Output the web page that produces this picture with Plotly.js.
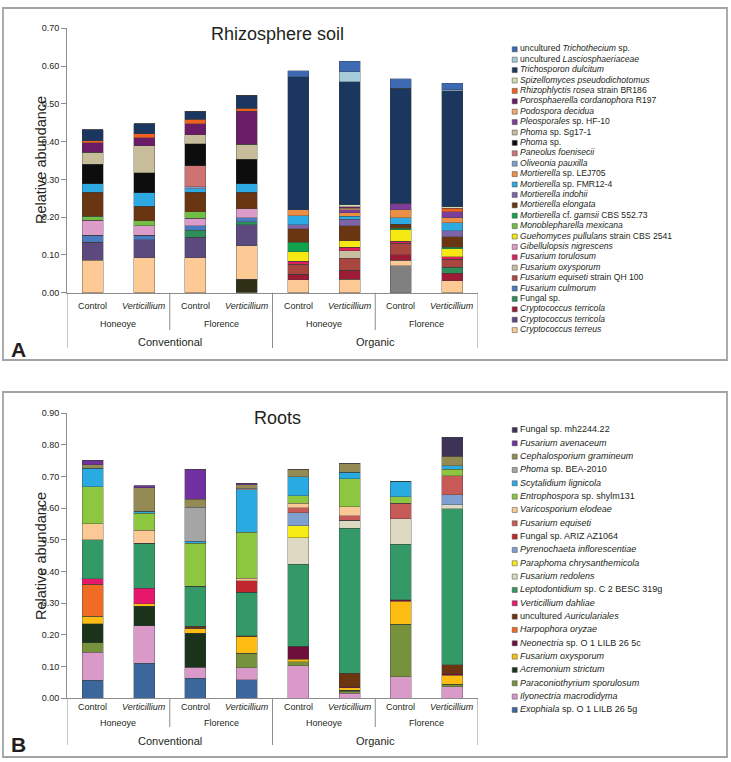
<!DOCTYPE html>
<html><head><meta charset="utf-8">
<script src="https://cdn.plot.ly/plotly-3.0.1.min.js"></script>
<style>html,body{margin:0;padding:0;background:#fff;}#chart{width:731px;height:762px;}</style>
</head><body><div id="chart"></div>
<script>
// ---------- categories ----------
const treatments = ['Control','<i>Verticillium</i>','Control','<i>Verticillium</i>','Control','<i>Verticillium</i>','Control','<i>Verticillium</i>'];
const sites = ['Honeoye','Florence','Honeoye','Florence'];
const systems = ['Conventional','Organic'];

// ---------- Panel A: rhizosphere soil (legend order, top -> bottom) ----------
const rhizoNames = [
 'uncultured <i>Trichothecium</i> sp.','uncultured <i>Lasciosphaeriaceae</i>','<i>Trichosporon dulcitum</i>',
 '<i>Spizellomyces pseudodichotomus</i>','<i>Rhizophlyctis rosea</i> strain BR186','<i>Porosphaerella cordanophora</i> R197',
 '<i>Podospora decidua</i>','<i>Pleosporales</i> sp. HF-10','<i>Phoma</i> sp. Sg17-1','<i>Phoma</i> sp.',
 '<i>Paneolus foenisecii</i>','<i>Oliveonia pauxilla</i>','<i>Mortierella</i> sp. LEJ705','<i>Mortierella</i> sp. FMR12-4',
 '<i>Mortierella indohii</i>','<i>Mortierella elongata</i>','<i>Mortierella</i> cf. <i>gamsii</i> CBS 552.73',
 '<i>Monoblepharella mexicana</i>','<i>Guehomyces pullulans</i> strain CBS 2541','<i>Gibellulopsis nigrescens</i>',
 '<i>Fusarium torulosum</i>','<i>Fusarium oxysporum</i>','<i>Fusarium equiseti</i> strain QH 100','<i>Fusarium culmorum</i>',
 'Fungal sp.','<i>Cryptococcus terricola</i>','<i>Cryptococcus terricola</i>','<i>Cryptococcus terreus</i>'];
const rhizoColors = ['#3e6ab4','#a6cbdb','#1b365f','#d0deb0','#f0601f','#6a1c67','#f3a76a','#7c3d9b','#c7bd9a','#0d0d0d',
 '#cd7472','#7c9dd0','#eb8f45','#2daae1','#7d64a8','#6a3511','#10a34d','#70bf44','#f6e812','#dc9cc9',
 '#de2060','#c9bfa0','#a9463f','#4a7bc1','#2f8f5b','#9d1b35','#5c4a7e','#fdc995'];
const rhizoValues = [
 [0,0,0,0,0.016,0.028,0.024,0.016],
 [0,0,0,0,0,0.027,0,0.003],
 [0.030,0.027,0.022,0.035,0.353,0.325,0.305,0.307],
 [0,0,0,0,0,0.006,0,0.005],
 [0.005,0.011,0.012,0.008,0,0,0,0.009],
 [0.025,0.021,0.029,0.087,0,0.004,0,0],
 [0,0,0,0,0,0.004,0,0],
 [0,0,0,0,0,0.007,0.017,0.015],
 [0.032,0.071,0.024,0.040,0,0,0,0],
 [0.052,0.053,0.058,0.065,0,0,0,0],
 [0,0,0.056,0,0,0,0,0],
 [0,0,0.005,0,0,0,0,0],
 [0,0,0,0,0.015,0.009,0.021,0.014],
 [0.022,0.036,0.009,0.022,0.024,0.008,0.018,0.021],
 [0,0,0,0,0.010,0.018,0,0.016],
 [0.063,0.038,0.052,0.044,0.036,0.039,0.010,0.027],
 [0,0,0,0,0.025,0,0.004,0.004],
 [0.011,0.014,0.017,0,0,0,0,0],
 [0,0,0,0,0.026,0.018,0.031,0.022],
 [0.040,0.025,0.020,0.024,0,0,0,0],
 [0,0,0,0,0.007,0.009,0.005,0.006],
 [0,0,0,0,0,0.020,0,0],
 [0,0,0,0,0.027,0.031,0.030,0.022],
 [0.019,0.012,0.012,0.010,0,0,0,0],
 [0,0,0.018,0.008,0,0,0,0.015],
 [0,0,0,0,0.015,0.025,0.015,0.021],
 [0.047,0.048,0.054,0.056,0,0,0,0],
 [0.086,0.092,0.093,0.088,0.034,0.035,0.015,0.031]];
// segments at the very bottom of two bars that have no legend entry
const rhizoOtherNames = ['unlabelled (grey)','unlabelled (dark)'];
const rhizoOtherColors = ['#808080','#2f2f16'];
const rhizoOtherValues = [
 [0,0,0,0,0,0,0.071,0],
 [0,0,0,0.036,0,0,0,0]];

// ---------- Panel B: roots (legend order, top -> bottom) ----------
const rootNames = [
 'Fungal sp. mh2244.22','<i>Fusarium avenaceum</i>','<i>Cephalosporium gramineum</i>','<i>Phoma</i> sp. BEA-2010',
 '<i>Scytalidium lignicola</i>','<i>Entrophospora</i> sp. shylm131','<i>Varicosporium elodeae</i>','<i>Fusarium equiseti</i>',
 'Fungal sp. ARIZ AZ1064','<i>Pyrenochaeta inflorescentiae</i>','<i>Paraphoma chrysanthemicola</i>','<i>Fusarium redolens</i>',
 '<i>Leptodontidium</i> sp. C 2 BESC 319g','<i>Verticillium dahliae</i>','uncultured <i>Auriculariales</i>','<i>Harpophora oryzae</i>',
 '<i>Neonectria</i> sp. O 1 LILB 26 5c','<i>Fusarium oxysporum</i>','<i>Acremonium strictum</i>','<i>Paraconiothyrium sporulosum</i>',
 '<i>Ilyonectria macrodidyma</i>','<i>Exophiala</i> sp. O 1 LILB 26 5g'];
const rootColors = ['#3d3358','#7030a0','#948a54','#a5a5a5','#29abe2','#8dc63f','#fbc996','#c75a57',
 '#c1272d','#7f9fd0','#f7ec13','#ddd9c3','#339966','#e6186c','#6b3510','#f26b22',
 '#6d0e3b','#fdbc12','#1a331a','#77923c','#d99ac9','#3b679c'];
const rootValues = [
 [0,0,0,0,0,0,0,0.060],
 [0.014,0.007,0.095,0.005,0,0,0,0],
 [0.011,0.075,0.025,0.011,0.024,0.028,0,0.029],
 [0,0,0.108,0.005,0,0,0,0],
 [0.059,0.006,0.007,0.134,0.060,0.021,0.049,0.011],
 [0.116,0.054,0.135,0.145,0.024,0.088,0.021,0.021],
 [0.051,0.041,0,0.008,0.014,0.029,0,0],
 [0,0,0,0,0.016,0.013,0.049,0.060],
 [0,0,0,0.036,0,0,0,0],
 [0,0,0,0,0.041,0,0,0.031],
 [0,0,0,0,0.038,0,0,0],
 [0,0,0,0,0.083,0.026,0.080,0.014],
 [0.123,0.142,0.127,0.137,0.259,0.458,0.175,0.492],
 [0.018,0.048,0,0,0,0,0,0],
 [0,0,0.006,0.003,0,0.042,0,0.029],
 [0.101,0,0,0,0,0,0,0],
 [0,0,0,0,0.042,0.004,0.005,0.004],
 [0.024,0.008,0.016,0.053,0.007,0.008,0.073,0.028],
 [0.060,0.062,0.107,0,0,0.003,0,0],
 [0.030,0,0,0.045,0.014,0.006,0.166,0.008],
 [0.088,0.119,0.034,0.039,0.102,0.016,0.068,0.037],
 [0.057,0.110,0.064,0.058,0,0,0,0]];

// ---------- build ----------
const W = 731, H = 762;
const FONT = 'Liberation Sans, Arial, Helvetica, sans-serif';
const TXT = '#231f20', AX = '#8c8c8c';
const px = v => v / W, py = v => 1 - v / H;
const barX = treatments.map((_, i) => i);

const traces = [];
function addStack(names, colors, values, xa, ya) {
  for (let i = names.length - 1; i >= 0; i--) {
    traces.push({type:'bar', x: barX, y: values[i], width: 0.41, name: names[i],
      xaxis: xa, yaxis: ya, showlegend: false, hoverinfo: 'name+y',
      marker: {color: colors[i], line: {color: 'rgba(60,60,60,0.6)', width: 0.6}}});
  }
}
addStack(rhizoOtherNames, rhizoOtherColors, rhizoOtherValues, 'x', 'y');
addStack(rhizoNames, rhizoColors, rhizoValues, 'x', 'y');
addStack(rootNames, rootColors, rootValues, 'x2', 'y2');

function addLegend(names, colors, xa, ya, fs) {
  traces.push({type:'scatter', mode:'markers', x: names.map(() => 0), y: names.map((_, i) => i),
    xaxis: xa, yaxis: ya, showlegend: false, hoverinfo: 'skip', cliponaxis: false,
    marker: {symbol: 'square', size: 5, color: colors, line: {color: '#444', width: 0.5}}});
  traces.push({type:'scatter', mode:'text', x: names.map(() => 0.025), y: names.map((_, i) => i),
    text: names, textposition: 'middle right', xaxis: xa, yaxis: ya, showlegend: false,
    hoverinfo: 'skip', cliponaxis: false, textfont: {family: FONT, size: fs, color: TXT}});
}
addLegend(rhizoNames, rhizoColors, 'x3', 'y3', 8.6);
addLegend(rootNames, rootColors, 'x4', 'y4', 9);

const xDom = [px(67), px(478)];
const baseX = {domain: xDom, range: [-0.5, 7.5], showline: true, linecolor: AX, linewidth: 1,
  ticks: '', showticklabels: false, showgrid: false, zeroline: false, fixedrange: true};
const baseY = {showline: true, linecolor: AX, linewidth: 1, ticks: 'outside', ticklen: 5, tickcolor: AX,
  tickformat: '.2f', dtick: 0.1, tick0: 0, showgrid: false, zeroline: false, fixedrange: true,
  tickfont: {family: FONT, size: 9, color: TXT}};
const legAx = {visible: false, fixedrange: true};

const annotations = [];
const shapes = [];
function ann(text, x, y, xref, size, extra) {
  annotations.push(Object.assign({text, x, y, xref, yref: 'paper', showarrow: false,
    xanchor: 'center', yanchor: 'middle', font: {family: FONT, size, color: TXT}}, extra || {}));
}
function panel(xa, ya, axisPy, rowPy, title, titlePy, letter, letterPy, yMid, boxTop, boxBot, minorEnd, majorEnd) {
  treatments.forEach((t, i) => ann(t, i, py(rowPy[0]), xa, 9));
  sites.forEach((s, i) => ann(s, 2 * i + 0.5, py(rowPy[1]), xa, 9));
  systems.forEach((s, i) => ann(s, 4 * i + 1.5, py(rowPy[2]), xa, 11));
  ann(title, px(277), py(titlePy), 'paper', 18);
  ann('<b>' + letter + '</b>', px(18), py(letterPy), 'paper', 21);
  ann('Relative abundance', px(41), py(yMid), 'paper', 14.5, {textangle: -90});
  [-0.5, 3.5, 7.5].forEach(v => shapes.push({type: 'line', xref: xa, yref: 'paper', x0: v, x1: v,
    y0: py(axisPy), y1: py(majorEnd), line: {color: AX, width: 1}}));
  [1.5, 5.5].forEach(v => shapes.push({type: 'line', xref: xa, yref: 'paper', x0: v, x1: v,
    y0: py(axisPy), y1: py(minorEnd), line: {color: AX, width: 1}}));
  shapes.push({type: 'rect', xref: 'paper', yref: 'paper', x0: px(3), x1: px(727), y0: py(boxBot), y1: py(boxTop),
    line: {color: '#a3a3a3', width: 1.8}});
}
panel('x', 'y', 292.7, [305.7, 324, 341.7], 'Rhizosphere soil', 34, 'A', 350, 160, 8, 360, 330, 348);
panel('x2', 'y2', 698.3, [706.7, 723.3, 740.7], 'Roots', 418, 'B', 744, 556, 392, 757, 727, 745);

const layout = {
  width: W, height: H, margin: {l: 0, r: 0, t: 0, b: 0}, paper_bgcolor: '#fff', plot_bgcolor: 'rgba(0,0,0,0)',
  barmode: 'stack', showlegend: false, font: {family: FONT, color: TXT},
  xaxis: Object.assign({}, baseX, {anchor: 'y'}),
  yaxis: Object.assign({}, baseY, {domain: [py(292.7), py(28.3)], range: [0, 0.7001], anchor: 'x'}),
  xaxis2: Object.assign({}, baseX, {anchor: 'y2'}),
  yaxis2: Object.assign({}, baseY, {domain: [py(698.3), py(413.3)], range: [0, 0.9001], anchor: 'x2'}),
  xaxis3: Object.assign({}, legAx, {domain: [px(514.7), px(730)], range: [0, 1], anchor: 'y3'}),
  yaxis3: Object.assign({}, legAx, {domain: [py(335.3), py(44.1)], range: [27.5, -0.5], anchor: 'x3'}),
  xaxis4: Object.assign({}, legAx, {domain: [px(514.7), px(730)], range: [0, 1], anchor: 'y4'}),
  yaxis4: Object.assign({}, legAx, {domain: [py(716.6), py(423.3)], range: [21.5, -0.5], anchor: 'x4'}),
  annotations, shapes
};
Plotly.newPlot('chart', traces, layout, {displayModeBar: false, staticPlot: true});
</script></body></html>
